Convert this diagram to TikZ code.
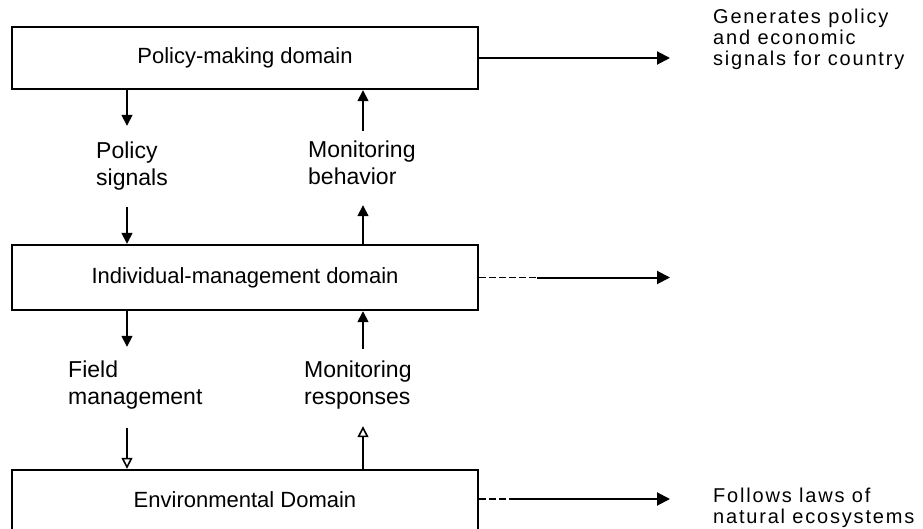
\documentclass[tikz,border=0pt]{standalone}
\usepackage{fontspec}
\setmainfont{Liberation Sans}
\usetikzlibrary{arrows.meta}
\begin{document}
\begin{tikzpicture}[x=1pt,y=-1pt,
  domainbox/.style={draw, line width=2.4pt, minimum width=466pt, inner sep=0pt,
                 font=\fontsize{22}{26}\selectfont},
  flowlabel/.style={align=left, inner sep=0pt, anchor=west,
                 font=\fontsize{23}{27}\selectfont},
  sidenote/.style={align=left, inner sep=0pt, anchor=north west,
               font=\fontsize{20}{21}\selectfont\addfontfeatures{LetterSpace=9}},
  flowarrow/.style={line width=1.6pt, -{Triangle[length=11pt,width=11pt]}},
  flowopenarrow/.style={line width=1.6pt, -{Triangle[open,length=11pt,width=11pt]}},
  outarrow/.style={line width=2pt, -{Triangle[length=13pt,width=13pt]}},
  outdash/.style={line width=1.8pt, dash pattern=on 7pt off 3pt},
]
\useasboundingbox[fill=white] (0,0) rectangle (923,529);

% the three domains
\node[domainbox, minimum height=62pt] (b1) at (245,58) {Policy-making domain};
\node[domainbox, minimum height=65pt] (b2) at (245,277.5) {Individual-management domain};
\node[domainbox, minimum height=60pt] (b3) at (245,500) {Environmental Domain};

% signals passed between the domains
\node[flowlabel] (ps) at (96,167) {\strut Policy\\signals\strut};
\node[flowlabel] (mb) at (308,166) {\strut Monitoring\\behavior\strut};
\node[flowlabel] (fm) at (68,386) {\strut Field\\management\strut};
\node[flowlabel] (mr) at (304,386) {\strut Monitoring\\responses\strut};

\coordinate (cl) at (127,0);
\coordinate (cr) at (363,0);

\draw[flowarrow, shorten >=14pt] (b1.south -| cl) -- (ps.north -| cl);
\draw[flowarrow, shorten <=13pt] (ps.south -| cl) -- (b2.north -| cl);
\draw[flowarrow, shorten <=8pt] (mb.north -| cr) -- (b1.south -| cr);
\draw[flowarrow, shorten >=12pt] (b2.north -| cr) -- (mb.south -| cr);

\draw[flowarrow, shorten >=12pt] (b2.south -| cl) -- (fm.north -| cl);
\draw[flowopenarrow, shorten <=15pt] (fm.south -| cl) -- (b3.north -| cl);
\draw[flowarrow, shorten <=10pt] (mr.north -| cr) -- (b2.south -| cr);
\draw[flowopenarrow, shorten >=13pt] (b3.north -| cr) -- (mr.south -| cr);

% what each domain puts out
\coordinate (o1) at (670,58);
\coordinate (d2) at (537,277.5);
\coordinate (o2) at (670,277.5);
\coordinate (d3) at (513,499);
\coordinate (o3) at (670,499);

\draw[outarrow] (b1.east) -- (o1);
\draw[outdash] (b2.east) -- (d2);
\draw[outarrow] (d2) -- (o2);
\draw[outdash] (b3.east |- d3) -- (d3);
\draw[outarrow] (d3) -- (o3);

\node[sidenote] (gen) at (713,9) {\strut Generates policy\\and economic\\signals for country\strut};
\node[sidenote] (fol) at (713,488) {\strut Follows laws of\\natural ecosystems\strut};
\end{tikzpicture}
\end{document}
